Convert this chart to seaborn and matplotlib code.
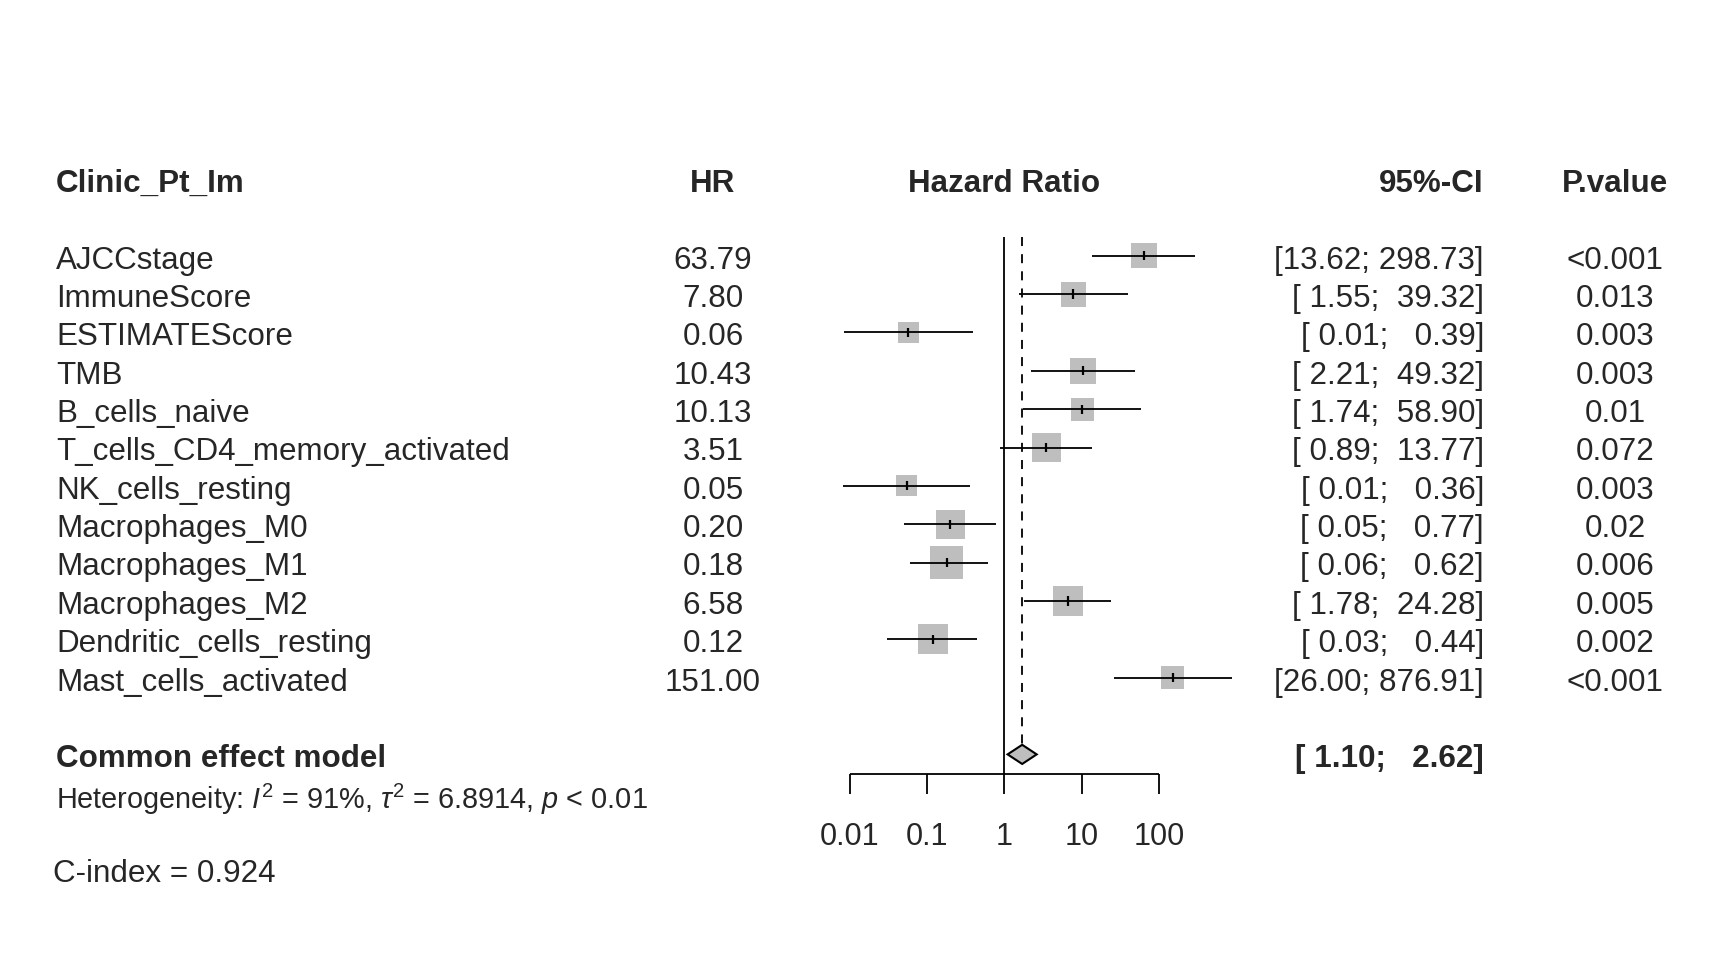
import numpy as np
import pandas as pd
import matplotlib
matplotlib.use("Agg")
import matplotlib.pyplot as plt
import matplotlib.transforms as mtransforms
import seaborn as sns

# data
labels = ["AJCCstage", "ImmuneScore", "ESTIMATEScore", "TMB", "B_cells_naive",
          "T_cells_CD4_memory_activated", "NK_cells_resting", "Macrophages_M0",
          "Macrophages_M1", "Macrophages_M2", "Dendritic_cells_resting",
          "Mast_cells_activated"]
hr = [63.79, 7.80, 0.057, 10.43, 10.13, 3.51, 0.054, 0.20, 0.18, 6.58, 0.12, 151.00]
lower = [13.62, 1.55, 0.0084, 2.21, 1.74, 0.89, 0.0082, 0.05, 0.06, 1.78, 0.03, 26.00]
upper = [298.73, 39.32, 0.39, 49.32, 58.90, 13.77, 0.36, 0.77, 0.62, 24.28, 0.44, 876.91]
pvals = ["<0.001", "0.013", "0.003", "0.003", "0.01", "0.072", "0.003", "0.02",
         "0.006", "0.005", "0.002", "<0.001"]
weight = [7.7, 7.3, 5.2, 7.9, 6.2, 10.5, 5.2, 9.9, 12.8, 10.5, 10.5, 6.2]

common_est, common_lo, common_hi = 1.70, 1.10, 2.62
hetero = r"Heterogeneity: $I^2$ = 91%, $\tau^2$ = 6.8914, $p$ < 0.01"
cindex = "C-index = 0.924"
xticks = [0.01, 0.1, 1, 10, 100]
xtick_labels = ["0.01", "0.1", "1", "10", "100"]

df = pd.DataFrame({"label": labels, "hr": hr, "lower": lower, "upper": upper,
                   "p": pvals, "weight": weight})
df["row"] = np.arange(len(df))

# styling
sns.set_style("white")
plt.rcParams["font.family"] = ["Liberation Sans", "DejaVu Sans"]
plt.rcParams["mathtext.fontset"] = "custom"
plt.rcParams["mathtext.rm"] = "Liberation Sans"
plt.rcParams["mathtext.it"] = "Liberation Sans:italic"
plt.rcParams["mathtext.bf"] = "Liberation Sans:bold"

W, H = 1728, 972
FS = 22.6
GREY = "#BEBEBE"
LW = 1.3
DY = 0.035   # text baseline nudge (rows)

fig = plt.figure(figsize=(W / 100, H / 100), dpi=100)
ppd = 77.2                      # pixels per decade on the log axis
left_px = 850 - 0.5 * ppd
ax = fig.add_axes([left_px / W, 0, 6 * ppd / W, 1])
ax.set_xscale("log")
ax.set_xlim(10 ** -2.5, 10 ** 3.5)
row0_px, row_h = 255.7, 38.36
ax.set_ylim((H - row0_px) / row_h, -row0_px / row_h)
ax.axis("off")

# CI lines and point ticks
ax.hlines(df["row"], df["lower"], df["upper"], color="black", lw=LW, zorder=3)
# weighted grey squares
smax = (33 * 72 / 100) ** 2
sns.scatterplot(data=df, x="hr", y="row", size="weight", sizes=(0, smax),
                size_norm=(0, max(weight)), marker="s", color=GREY,
                linewidth=0, legend=False, ax=ax, zorder=2)
ax.vlines(df["hr"], df["row"] - 0.12, df["row"] + 0.12, color="black", lw=LW + 0.3, zorder=4)

# reference lines
n = len(df)
diamond_row = n + 1
ax.vlines(1, -0.5, diamond_row + 0.5, color="black", lw=LW, zorder=1)
ax.vlines(common_est, -0.5, diamond_row - 0.25, color="black", lw=LW,
          linestyles=(0, (5, 4.5)), zorder=1)

# pooled diamond
ax.fill([common_lo, common_est, common_hi, common_est],
        [diamond_row, diamond_row - 0.25, diamond_row, diamond_row + 0.25],
        facecolor=GREY, edgecolor="black", lw=1.5, zorder=3)

# x axis
axis_row = diamond_row + 0.5
ax.hlines(axis_row, xticks[0], xticks[-1], color="black", lw=LW)
ax.vlines(xticks, axis_row, axis_row + 0.53, color="black", lw=LW)
for t, lab in zip(xticks, xtick_labels):
    ax.text(t, axis_row + 1.57, lab, ha="center", va="center_baseline", fontsize=22)

# text columns
tr = mtransforms.blended_transform_factory(fig.transFigure, ax.transData)
x_lab, x_hr, x_ci, x_p = 56 / W, 713 / W, 1484 / W, 1615 / W
head_row = -2 + DY
ax.text(x_lab, head_row, "Clinic_Pt_Im", transform=tr, ha="left", va="center_baseline",
        fontsize=FS, fontweight="bold")
ax.text(x_hr, head_row, "HR", transform=tr, ha="center", va="center_baseline",
        fontsize=FS, fontweight="bold")
ax.text(1, head_row, "Hazard Ratio", ha="center", va="center_baseline",
        fontsize=FS, fontweight="bold")
ax.text(x_ci, head_row, "95%-CI", transform=tr, ha="right", va="center_baseline",
        fontsize=FS, fontweight="bold")
ax.text(x_p, head_row, "P.value", transform=tr, ha="center", va="center_baseline",
        fontsize=FS, fontweight="bold")

lo_w = max(len(f"{v:.2f}") for v in lower + [common_lo])
hi_w = max(len(f"{v:.2f}") for v in upper + [common_hi])


def ci_text(lo, hi):
    return "[" + f"{lo:.2f}".rjust(lo_w) + "; " + f"{hi:.2f}".rjust(hi_w) + "]"


for _, r in df.iterrows():
    y = r["row"] + DY
    ax.text(x_lab, y, r["label"], transform=tr, ha="left", va="center_baseline", fontsize=FS)
    ax.text(x_hr, y, f"{r['hr']:.2f}", transform=tr, ha="center", va="center_baseline", fontsize=FS)
    ax.text(x_ci, y, ci_text(r["lower"], r["upper"]), transform=tr, ha="right",
            va="center_baseline", fontsize=FS)
    ax.text(x_p, y, r["p"], transform=tr, ha="center", va="center_baseline", fontsize=FS)

ax.text(x_lab, diamond_row + DY, "Common effect model", transform=tr, ha="left",
        va="center_baseline", fontsize=FS, fontweight="bold")
ax.text(x_ci, diamond_row + DY, ci_text(common_lo, common_hi), transform=tr, ha="right",
        va="center_baseline", fontsize=FS, fontweight="bold")
ax.text(x_lab, diamond_row + 1.06, hetero, transform=tr, ha="left", va="center_baseline",
        fontsize=20.8)
ax.text(53 / W, diamond_row + 3.04, cindex, transform=tr, ha="left", va="center_baseline",
        fontsize=FS)

fig.savefig("out.png", dpi=100)
